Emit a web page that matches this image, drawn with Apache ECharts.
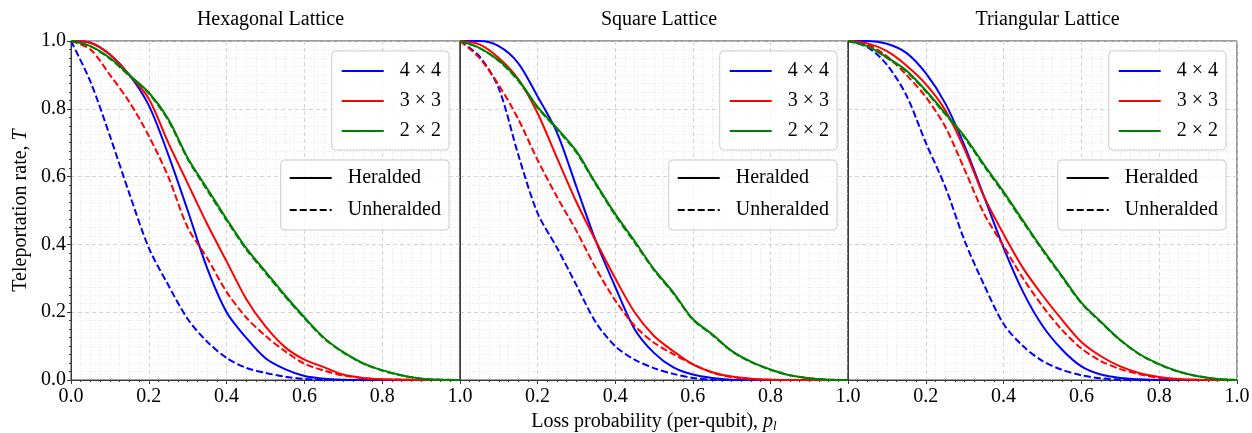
<!DOCTYPE html>
<html>
<head>
<meta charset="utf-8">
<title>Teleportation rate vs loss probability</title>
<script src="https://cdn.jsdelivr.net/npm/echarts@6/dist/echarts.min.js"></script>
<style>
  html, body { margin: 0; padding: 0; background: #fff; }
  #main { width: 1252px; height: 433px; }
</style>
</head>
<body>
<div id="main"></div>
<script type="text/javascript">
// loss probability grid (x) shared by every curve
var lossP = [0, 0.05, 0.1, 0.15, 0.2, 0.25, 0.3, 0.35, 0.4, 0.45, 0.5, 0.55, 0.6, 0.65, 0.7, 0.75, 0.8, 0.85, 0.9, 0.95, 1.0];
var tickLabels = ["0.0", "0.2", "0.4", "0.6", "0.8", "1.0"];
var lattices = ["Hexagonal Lattice", "Square Lattice", "Triangular Lattice"];
var sizeNames = ["4 × 4", "3 × 3", "2 × 2"];
var modeNames = ["Heralded", "Unheralded"];

// hexagonal lattice, H = heralded, U = unheralded
var hex4H = [1, 0.995, 0.96, 0.9, 0.81, 0.665, 0.5, 0.33, 0.2, 0.125, 0.064, 0.032, 0.012, 0.004, 0.001, 0, 0, 0, 0, 0, 0];
var hex4U = [1, 0.88, 0.72, 0.55, 0.39, 0.28, 0.18, 0.113, 0.065, 0.036, 0.021, 0.01, 0.003, 0.001, 0, 0, 0, 0, 0, 0, 0];
var hex3H = [1, 0.995, 0.96, 0.9, 0.83, 0.7, 0.58, 0.46, 0.35, 0.24, 0.158, 0.097, 0.06, 0.038, 0.016, 0.006, 0.002, 0.001, 0, 0, 0];
var hex3U = [1, 0.975, 0.9, 0.82, 0.72, 0.6, 0.45, 0.36, 0.26, 0.185, 0.13, 0.085, 0.048, 0.028, 0.013, 0.006, 0.002, 0.001, 0, 0, 0];
var hex2H = [1, 0.985, 0.95, 0.9, 0.848, 0.77, 0.655, 0.565, 0.475, 0.39, 0.32, 0.25, 0.185, 0.125, 0.082, 0.05, 0.029, 0.014, 0.004, 0.001, 0];
var hex2U = [1, 0.984, 0.948, 0.897, 0.845, 0.766, 0.652, 0.56, 0.471, 0.386, 0.316, 0.247, 0.182, 0.123, 0.081, 0.049, 0.028, 0.013, 0.004, 0.001, 0];

// square lattice
var sq4H = [1, 1, 0.985, 0.935, 0.836, 0.73, 0.57, 0.41, 0.275, 0.15, 0.08, 0.037, 0.016, 0.006, 0.001, 0, 0, 0, 0, 0, 0];
var sq4U = [1, 0.955, 0.86, 0.665, 0.492, 0.39, 0.28, 0.17, 0.1, 0.06, 0.035, 0.018, 0.006, 0.001, 0, 0, 0, 0, 0, 0, 0];
var sq3H = [1, 0.99, 0.95, 0.888, 0.787, 0.655, 0.525, 0.41, 0.3, 0.2, 0.13, 0.085, 0.046, 0.023, 0.01, 0.004, 0.001, 0, 0, 0, 0];
var sq3U = [1, 0.95, 0.87, 0.77, 0.649, 0.54, 0.44, 0.33, 0.235, 0.16, 0.11, 0.076, 0.047, 0.022, 0.009, 0.003, 0.001, 0, 0, 0, 0];
var sq2H = [1, 0.98, 0.943, 0.886, 0.806, 0.743, 0.675, 0.58, 0.49, 0.41, 0.327, 0.258, 0.18, 0.135, 0.086, 0.054, 0.031, 0.014, 0.005, 0.001, 0];
var sq2U = [1, 0.979, 0.941, 0.883, 0.803, 0.74, 0.671, 0.577, 0.486, 0.406, 0.324, 0.255, 0.178, 0.133, 0.085, 0.053, 0.03, 0.014, 0.005, 0.001, 0];

// triangular lattice
var tri4H = [1, 1, 0.992, 0.965, 0.905, 0.816, 0.69, 0.54, 0.39, 0.26, 0.16, 0.09, 0.04, 0.016, 0.006, 0.002, 0, 0, 0, 0, 0];
var tri4U = [1, 0.982, 0.93, 0.84, 0.7, 0.57, 0.41, 0.28, 0.165, 0.1, 0.056, 0.03, 0.014, 0.005, 0.001, 0, 0, 0, 0, 0, 0];
var tri3H = [1, 0.993, 0.97, 0.928, 0.873, 0.796, 0.68, 0.54, 0.43, 0.33, 0.25, 0.178, 0.112, 0.07, 0.04, 0.02, 0.009, 0.003, 0.001, 0, 0];
var tri3U = [1, 0.99, 0.955, 0.9, 0.835, 0.747, 0.62, 0.49, 0.395, 0.3, 0.218, 0.148, 0.093, 0.056, 0.032, 0.017, 0.006, 0.002, 0, 0, 0];
var tri2H = [1, 0.985, 0.952, 0.913, 0.854, 0.787, 0.718, 0.635, 0.555, 0.47, 0.386, 0.307, 0.228, 0.172, 0.118, 0.076, 0.047, 0.025, 0.011, 0.003, 0];
var tri2U = [1, 0.984, 0.95, 0.91, 0.851, 0.784, 0.714, 0.631, 0.551, 0.466, 0.383, 0.304, 0.226, 0.17, 0.117, 0.075, 0.046, 0.024, 0.011, 0.003, 0];

var panelData = [
  [[hex4H, hex4U], [hex3H, hex3U], [hex2H, hex2U]],
  [[sq4H, sq4U], [sq3H, sq3U], [sq2H, sq2U]],
  [[tri4H, tri4U], [tri3H, tri3U], [tri2H, tri2U]]
];

var colors = ["#0000ff", "#ff0000", "#008000"];
var font = "'Liberation Serif', 'DejaVu Serif', serif";
var panelLeft = [71, 460, 848];
var panelWidth = [389, 388, 389];

function pairs(ys) {
  return lossP.map(function (p, i) { return [p, ys[i]]; });
}

var myChart = echarts.init(document.getElementById("main"), null, { renderer: "canvas" });

var grids = [], xAxes = [], yAxes = [], titles = [], legends = [], series = [];

for (var k = 0; k < 3; k++) {
  grids.push({
    left: panelLeft[k], top: 41, width: panelWidth[k], height: 339,
    outerBoundsMode: "none", containLabel: false,
    show: true, borderColor: "#3a3a3a", borderWidth: 1, backgroundColor: "transparent"
  });
  xAxes.push({
    gridIndex: k, type: "value", min: 0, max: 1, interval: 0.2,
    name: k === 1 ? "{n|Loss probability (per-qubit), }{i|p}{s|l}" : "",
    nameLocation: "middle", nameGap: 30,
    nameTextStyle: {
      rich: {
        n: { fontFamily: font, fontSize: 20, color: "#000", lineHeight: 22 },
        i: { fontFamily: font, fontSize: 20, fontStyle: "italic", color: "#000", lineHeight: 22 },
        s: { fontFamily: font, fontSize: 13, fontStyle: "italic", color: "#000", lineHeight: 13, verticalAlign: "bottom" }
      }
    },
    axisLine: { show: true, lineStyle: { color: "#3a3a3a", width: 1 } },
    axisTick: { show: true, length: 4, lineStyle: { color: "#3a3a3a" } },
    minorTick: { show: true, splitNumber: 8, length: 2, lineStyle: { color: "#3a3a3a" } },
    axisLabel: {
      margin: 7, fontFamily: font, fontSize: 20, color: "#000",
      showMinLabel: k === 0,
      formatter: function (v) { return tickLabels[Math.round(v * 5)]; }
    },
    splitLine: { show: true, lineStyle: { color: "#c8c8c8", type: [4, 3], width: 0.8 } },
    minorSplitLine: { show: true, lineStyle: { color: "#e0e0e0", type: [1, 2], width: 0.8 } }
  });
  yAxes.push({
    gridIndex: k, type: "value", min: 0, max: 1, interval: 0.2,
    name: k === 0 ? "{n|Teleportation rate, }{i|T}" : "",
    nameLocation: "middle", nameGap: 40, nameRotate: 90,
    nameTextStyle: {
      rich: {
        n: { fontFamily: font, fontSize: 20, color: "#000" },
        i: { fontFamily: font, fontSize: 20, fontStyle: "italic", color: "#000" }
      }
    },
    axisLine: { show: true, lineStyle: { color: "#3a3a3a", width: 1 } },
    axisTick: { show: k === 0, length: 4, lineStyle: { color: "#3a3a3a" } },
    minorTick: { show: k === 0, splitNumber: 8, length: 2, lineStyle: { color: "#3a3a3a" } },
    axisLabel: {
      show: k === 0, margin: 5, fontFamily: font, fontSize: 20, color: "#000",
      formatter: function (v) { return tickLabels[Math.round(v * 5)]; }
    },
    splitLine: { show: true, lineStyle: { color: "#c8c8c8", type: [4, 3], width: 0.8 } },
    minorSplitLine: { show: true, lineStyle: { color: "#e0e0e0", type: [1, 2], width: 0.8 } }
  });
  titles.push({
    text: lattices[k],
    left: panelLeft[k] + panelWidth[k] / 2, top: 5, textAlign: "center",
    textStyle: { fontFamily: font, fontSize: 20, fontWeight: "normal", color: "#000" }
  });

  var rightEdge = 1252 - (panelLeft[k] + panelWidth[k] - 11);
  var boxStyle = {
    orient: "vertical", right: rightEdge, selectedMode: false,
    backgroundColor: "rgba(255,255,255,0.8)", borderColor: "#cccccc", borderWidth: 1, borderRadius: 4,
    itemWidth: 42, itemHeight: 14, itemGap: 10,
    // hide the symbol drawn on each legend key, keep the line
    itemStyle: { opacity: 0 },
    textStyle: { fontFamily: font, fontSize: 20, color: "#000", lineHeight: 20, padding: [0, 0, 0, 11] }
  };
  legends.push(Object.assign({}, boxStyle, { data: sizeNames, top: 51, padding: [10, 8, 9, 9] }));
  legends.push(Object.assign({}, boxStyle, { data: modeNames, top: 160, itemGap: 12, padding: [8, 8, 10, 8] }));

  for (var s = 0; s < 3; s++) {
    for (var m = 0; m < 2; m++) {
      series.push({
        name: m === 0 ? sizeNames[s] : sizeNames[s] + " unheralded",
        type: "line", xAxisIndex: k, yAxisIndex: k,
        data: pairs(panelData[k][s][m]),
        showSymbol: false, symbol: "none", smooth: 0.3, clip: true,
        lineStyle: { color: colors[s], width: 2, type: m === 0 ? "solid" : [7, 3] },
        itemStyle: { color: colors[s] },
        z: 2 + s
      });
    }
  }
}

// black key lines for the heralded / unheralded legend
series.push({
  name: "Heralded", type: "line", xAxisIndex: 0, yAxisIndex: 0, data: [], symbol: "none",
  lineStyle: { color: "#000", width: 2, type: "solid" }, itemStyle: { color: "#000" }
});
series.push({
  name: "Unheralded", type: "line", xAxisIndex: 0, yAxisIndex: 0, data: [], symbol: "none",
  lineStyle: { color: "#000", width: 2, type: [7, 3] }, itemStyle: { color: "#000" }
});

var option = {
  animation: false,
  backgroundColor: "#fff",
  title: titles,
  legend: legends,
  grid: grids,
  xAxis: xAxes,
  yAxis: yAxes,
  series: series
};
myChart.setOption(option);
</script>
</body>
</html>
